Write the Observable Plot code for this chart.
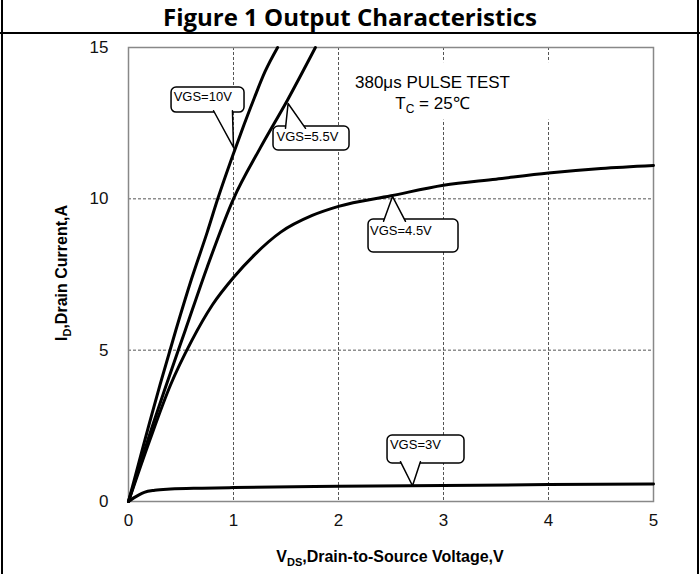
<!DOCTYPE html>
<html><head><meta charset="utf-8">
<script src="https://cdn.jsdelivr.net/npm/d3@7"></script>
<script src="https://cdn.jsdelivr.net/npm/@observablehq/plot@0.6"></script>
<style>
body{margin:0;background:#fff;}
#wrap{position:relative;width:700px;height:574px;overflow:hidden;font-family:"Liberation Sans",Arial,sans-serif;background:#fff;}
#title{position:absolute;left:0;top:0;width:700px;height:32px;border-bottom:2px solid #000;text-align:center;font:bold 24px "Open Sans",sans-serif;line-height:33px;color:#000;}
#chart{position:absolute;left:0;top:34px;}
.bl{position:absolute;top:0;bottom:0;width:2px;background:#000;}
</style></head><body>
<div id="wrap"><div id="title">Figure 1 Output Characteristics</div><div id="chart"></div><div class="bl" style="left:1px"></div><div class="bl" style="left:697px"></div></div>
<script>
// ---- data ----
const xTicks = [0, 1, 2, 3, 4, 5];
const yTicks = [0, 5, 10, 15];
const xGrid = [1, 2, 3, 4];
const yGrid = [5, 10];

const vds10V = [0, 0.1, 0.2, 0.3, 0.45, 0.6, 0.75, 0.85, 1.0, 1.1, 1.2, 1.3, 1.42];
const id10V  = [0, 1.3, 2.6, 3.85, 5.65, 7.35, 8.9, 10.0, 11.5, 12.45, 13.35, 14.2, 15.0];
const vds55V = [0, 0.1, 0.2, 0.35, 0.54, 0.75, 1.0, 1.25, 1.52, 1.78];
const id55V  = [0, 1.1, 2.2, 3.75, 5.65, 7.75, 10.0, 11.65, 13.3, 15.0];
const vds45V = [0, 0.2, 0.4, 0.6, 0.8, 1.0, 1.2, 1.45, 1.75, 2.0, 2.5, 3.0, 3.5, 4.0, 4.5, 5.0];
const id45V  = [0, 2.0, 3.85, 5.3, 6.5, 7.4, 8.15, 8.9, 9.45, 9.75, 10.1, 10.45, 10.65, 10.85, 11.0, 11.1];
const vds3V  = [0, 0.05, 0.1, 0.15, 0.25, 0.4, 0.7, 1, 2, 3, 4, 5];
const id3V   = [0, 0.12, 0.22, 0.3, 0.37, 0.41, 0.44, 0.46, 0.5, 0.53, 0.56, 0.58];

const seriesNames = ["VGS=10V", "VGS=5.5V", "VGS=4.5V", "VGS=3V"];
const seriesV = [vds10V, vds55V, vds45V, vds3V];
const seriesI = [id10V, id55V, id45V, id3V];

// callout annotations (data coordinates)
const callouts = [
  {label: "VGS=10V",  x1: 0.41, x2: 1.105, y1: 12.85, y2: 13.68, tx: 0.43, ty: 13.36, b1: 0.81, b2: 0.99, tipX: 1.0, tipY: 11.7, side: "bottom"},
  {label: "VGS=5.5V", x1: 1.381, x2: 2.105, y1: 11.6, y2: 12.39, tx: 1.41, ty: 12.06, b1: 1.495, b2: 1.686, tipX: 1.52, tipY: 13.15, side: "top"},
  {label: "VGS=4.5V", x1: 2.286, x2: 3.143, y1: 8.227, y2: 9.317, tx: 2.30, ty: 8.94, b1: 2.429, b2: 2.638, tipX: 2.514, tipY: 10.08, side: "top"},
  {label: "VGS=3V",   x1: 2.467, x2: 3.2, y1: 1.255, y2: 2.18, tx: 2.49, ty: 1.87, b1: 2.59, b2: 2.78, tipX: 2.705, tipY: 0.52, side: "bottom"}
];

// ---- build tables ----
const rows = [];
seriesNames.forEach((n, k) => seriesV[k].forEach((v, j) => rows.push({vgs: n, v, i: seriesI[k][j]})));
const tails = [];
callouts.forEach(c => {
  const by = c.side === "bottom" ? c.y1 + 0.06 : c.y2 - 0.06;
  tails.push({id: c.label, x: c.b1, y: by}, {id: c.label, x: c.tipX, y: c.tipY}, {id: c.label, x: c.b2, y: by});
});

const chart = Plot.plot({
  width: 700, height: 540,
  marginTop: 13, marginBottom: 73, marginLeft: 128, marginRight: 47,
  style: {fontFamily: '"Liberation Sans", Arial, sans-serif', fontSize: "17px", color: "#111", background: "#fff"},
  x: {domain: [0, 5], ticks: xTicks, tickFormat: d => String(d), tickSize: 0, tickPadding: 12, label: null},
  y: {domain: [0, 15], ticks: yTicks, tickFormat: d => String(d), tickSize: 0, tickPadding: 20, label: null},
  marks: [
    Plot.ruleX(xGrid, {stroke: "#555", strokeWidth: 1, strokeDasharray: "3,2"}),
    Plot.ruleY(yGrid, {stroke: "#555", strokeWidth: 1, strokeDasharray: "3,2"}),
    Plot.frame({stroke: "#888", strokeWidth: 1.5}),
    Plot.line(rows, {x: "v", y: "i", z: "vgs", stroke: "#000", strokeWidth: 3, curve: "monotone-x"}),
    Plot.rect(callouts, {x1: "x1", x2: "x2", y1: "y1", y2: "y2", fill: "#fff", stroke: "#000", strokeWidth: 1.5, rx: 5}),
    Plot.line(tails, {x: "x", y: "y", z: "id", fill: "#fff", stroke: "#000", strokeWidth: 1.5, curve: "linear"}),
    Plot.text(callouts, {x: "tx", y: "ty", text: "label", textAnchor: "start", fontSize: 13, fill: "#000"})
  ]
});
document.getElementById("chart").appendChild(chart);

// ---- labels with subscripts ----
const svg = d3.select(chart);
const sx = chart.scale("x").apply, sy = chart.scale("y").apply;
const yl = svg.append("text").attr("transform", "translate(67,239) rotate(-90)")
  .attr("text-anchor", "middle").attr("font-weight", "bold").attr("font-size", 16).attr("fill", "#000");
yl.append("tspan").text("I");
yl.append("tspan").attr("dy", 4).attr("font-size", 11).text("D");
yl.append("tspan").attr("dy", -4).text(",Drain Current,A");

const xl = svg.append("text").attr("x", 390).attr("y", 528)
  .attr("text-anchor", "middle").attr("font-weight", "bold").attr("font-size", 16).attr("fill", "#000");
xl.append("tspan").text("V");
xl.append("tspan").attr("dy", 4).attr("font-size", 11).text("DS");
xl.append("tspan").attr("dy", -4).text(",Drain-to-Source Voltage,V");

svg.append("rect").attr("x", sx(2.85)).attr("y", sy(14.5)).attr("width", sx(4.5) - sx(2.85)).attr("height", sy(12.6) - sy(14.5)).attr("fill", "#fff");
svg.append("text").attr("x", sx(2.9)).attr("y", sy(13.65)).attr("font-size", 17).attr("fill", "#000").text("380μs PULSE TEST");
const tc = svg.append("text").attr("x", sx(2.9)).attr("y", sy(12.95)).attr("font-size", 17).attr("fill", "#000");
tc.append("tspan").text("T");
tc.append("tspan").attr("dy", 4).attr("font-size", 12).text("C");
tc.append("tspan").attr("dy", -4).text(" = 25℃");
</script>
</body></html>
